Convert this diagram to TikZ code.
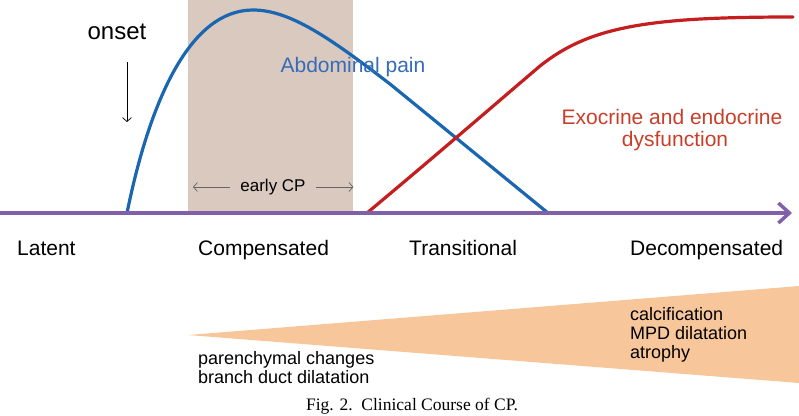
\documentclass[tikz,border=0pt]{standalone}
\usepackage{fontspec}
\setmainfont{Liberation Sans}
\newfontfamily\captionserif{Liberation Serif}
\usepackage{xcolor}
\usetikzlibrary{arrows.meta,positioning,calc}

\definecolor{axispurple}{RGB}{128,96,168}
\definecolor{painblue}{RGB}{26,102,176}
\definecolor{paintext}{RGB}{52,108,184}
\definecolor{dysred}{RGB}{196,30,30}
\definecolor{dystext}{RGB}{200,62,40}
\definecolor{earlybox}{RGB}{218,201,191}
\definecolor{wedgefill}{RGB}{248,198,155}

\begin{document}
\begin{tikzpicture}[
  x=1pt, y=-1pt,
  % Styles
  stage/.style={font=\fontsize{21}{24}\selectfont, anchor=base west, inner sep=0pt},
  curvelabel/.style={font=\fontsize{21}{22}\selectfont, anchor=base, inner sep=0pt},
  finding/.style={font=\fontsize{18}{19}\selectfont, align=left, anchor=base west, inner sep=0pt},
  curve/.style={line width=3.2pt, line cap=round},
  thinarrow/.style={-{Straight Barb[length=4pt,width=9pt]}, line width=0.7pt}
]
\useasboundingbox (0,0) rectangle (799,415);

% --- 1. Early CP window and findings wedge ---
\node[fill=earlybox, inner sep=0pt, minimum width=165pt, minimum height=213pt,
      anchor=north west] (early) at (188,0) {};
\coordinate (wtip) at (188,335);
\coordinate (wtop) at (799,286);
\coordinate (wbot) at (799,383);
\fill[wedgefill] (wtip) -- (wtop) -- (wbot) -- cycle;

% --- 2. Curves ---
\coordinate (painstart) at (127,213);
\coordinate (painpeak) at (253,10);
\coordinate (painend) at (548,213);
\draw[curve, painblue] (painstart) .. controls (150,100) and (190,10) .. (painpeak)
  .. controls (290,10) and (330,38) .. (390,84) -- (painend);

\coordinate (dysstart) at (367,213);
\coordinate (dysend) at (793,17);
\draw[curve, dysred] (dysstart) .. controls (440,152) and (500,100) .. (540,66)
  .. controls (590,26) and (650,17) .. (dysend);

% --- 3. Time axis ---
\coordinate (axisL) at (0,213);
\coordinate (axisR) at (792,213);
\draw[line width=3.5pt, axispurple, -{Straight Barb[length=11pt,width=20pt]}] (axisL) -- (axisR);

% --- 4. Labels ---
\node[font=\fontsize{24}{24}\selectfont, anchor=base, inner sep=0pt] (onset) at (117,39.5) {onset};
\coordinate (onsetA) at (127,62);
\coordinate (onsetB) at (127,122);
\draw[thinarrow] (onsetA) -- (onsetB);

\node[font=\fontsize{17}{17}\selectfont, inner ysep=0pt, inner xsep=10pt] (earlycp) at (273,187) {early CP};
\draw[thinarrow, black!60] (earlycp.west) -- ($(early.west |- earlycp.west)+(5,0)$);
\draw[thinarrow, black!60] (earlycp.east) -- (early.east |- earlycp.east);

\node[curvelabel, text=paintext] (painlabel) at (353,72.5) {Abdominal pain};
\node[curvelabel, text=dystext] (dystop) at (672,124) {Exocrine and endocrine};
\node[curvelabel, text=dystext] (dysbot) at ($(dystop.base)+(3,22)$) {dysfunction};

% Stages
\node[stage] (latent) at (17,255) {Latent};
\node[stage] (compensated) at (198,255) {Compensated};
\node[stage] (transitional) at (409,255) {Transitional};
\node[stage] (decompensated) at (630,255) {Decompensated};

% Findings (base = last line)
\node[finding] (earlyfind) at (198,383) {parenchymal changes\\branch duct dilatation};
\node[finding] (latefind) at (630,358) {calcification\\MPD dilatation\\atrophy};

% Caption
\node[font=\captionserif\fontsize{17.5}{18}\selectfont, anchor=base, inner sep=0pt] (caption)
  at (412,410.5) {Fig. 2.\ \ Clinical Course of CP.};

\end{tikzpicture}
\end{document}
